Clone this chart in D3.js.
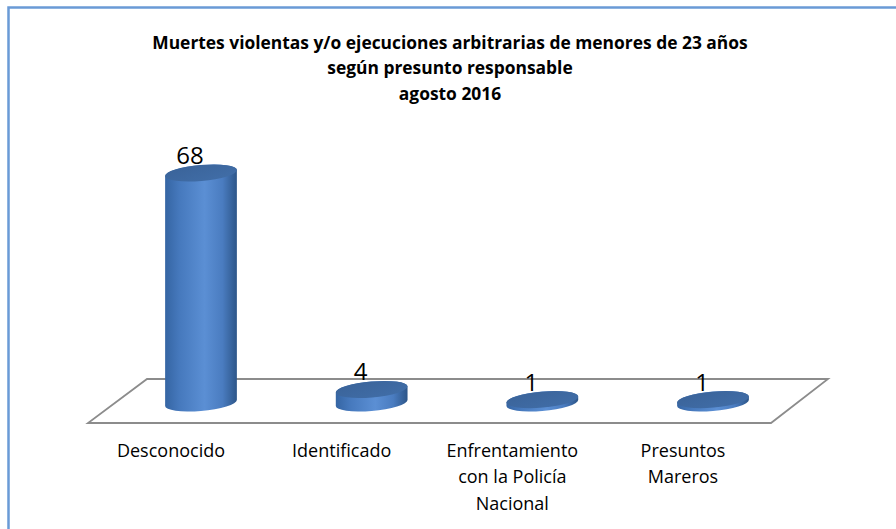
<!DOCTYPE html>
<html>
<head>
<meta charset="utf-8">
<script src="https://cdn.jsdelivr.net/npm/d3@7"></script>
<style>
  html, body { margin: 0; padding: 0; background: #fff; }
  svg { display: block; }
  text { font-family: "Open Sans", Lato, sans-serif; }
</style>
</head>
<body>
<div id="chart"></div>
<script>
const titleLines = [
  'Muertes violentas y/o ejecuciones arbitrarias de menores de 23 años',
  'según presunto responsable',
  'agosto 2016'
];
const categories = ['Desconocido', 'Identificado', 'Enfrentamiento con la Policía Nacional', 'Presuntos Mareros'];
const categoryLines = [
  ['Desconocido'],
  ['Identificado'],
  ['Enfrentamiento', 'con la Policía', 'Nacional'],
  ['Presuntos', 'Mareros']
];
const values = [68, 4, 1, 1];

const width = 896, height = 529;

const svg = d3.select('#chart').append('svg')
  .attr('width', width)
  .attr('height', height);

// outer frame (runs past the right and bottom edges)
svg.append('rect')
  .attr('x', 8.5).attr('y', 7.5)
  .attr('width', 920).attr('height', 560)
  .attr('fill', '#fff')
  .attr('stroke', '#6a9ad6')
  .attr('stroke-width', 2.5);

const defs = svg.append('defs');
const bodyGrad = defs.append('linearGradient')
  .attr('id', 'bodyGrad')
  .attr('x1', '0%').attr('x2', '100%').attr('y1', '0%').attr('y2', '0%');
[['0%', '#3565a3'], ['20%', '#4679bd'], ['55%', '#5b8fd4'], ['80%', '#4a7cc0'], ['100%', '#2d5689']]
  .forEach(s => bodyGrad.append('stop').attr('offset', s[0]).attr('stop-color', s[1]));

const topGrad = defs.append('linearGradient')
  .attr('id', 'topGrad')
  .attr('x1', '0%').attr('x2', '100%').attr('y1', '0%').attr('y2', '100%');
[['0%', '#3a6399'], ['100%', '#416ea8']]
  .forEach(s => topGrad.append('stop').attr('offset', s[0]).attr('stop-color', s[1]));

// title
svg.append('g').selectAll('text')
  .data(titleLines)
  .join('text')
  .attr('x', 450)
  .attr('y', (d, i) => 48.5 + i * 25.8)
  .attr('text-anchor', 'middle')
  .attr('font-weight', 'bold')
  .attr('font-size', '17.4px')
  .attr('fill', '#000')
  .text(d => d);

const x = d3.scalePoint()
  .domain(categories)
  .range([201, 713]);

const y = d3.scaleLinear()
  .domain([0, 68])
  .range([403, 173]);

// floor
const floor = [[147, 379], [828, 379], [771, 423], [88, 423]];
svg.append('path')
  .attr('d', d3.line()(floor) + 'Z')
  .attr('fill', '#fff')
  .attr('stroke', '#8c8c8c')
  .attr('stroke-width', 1.8);

// cylinders
const rx = 36, ry = 8, rot = -5;
const th = rot * Math.PI / 180;
const t0 = Math.atan2(-ry * Math.sin(th), rx * Math.cos(th));
let px = rx * Math.cos(t0) * Math.cos(th) - ry * Math.sin(t0) * Math.sin(th);
let py = rx * Math.cos(t0) * Math.sin(th) + ry * Math.sin(t0) * Math.cos(th);
if (px < 0) { px = -px; py = -py; }

const bars = svg.append('g').selectAll('g')
  .data(values.map((v, i) => ({ cat: categories[i], value: v })))
  .join('g');

bars.append('path')
  .attr('d', d => {
    const cx = x(d.cat), yt = y(d.value), yb = y(0);
    return `M${cx - px},${yt - py} L${cx - px},${yb - py}` +
      ` A${rx},${ry} ${rot} 0 0 ${cx + px},${yb + py}` +
      ` L${cx + px},${yt + py}` +
      ` A${rx},${ry} ${rot} 0 0 ${cx - px},${yt - py} Z`;
  })
  .attr('fill', 'url(#bodyGrad)');

bars.append('ellipse')
  .attr('cx', d => x(d.cat))
  .attr('cy', d => y(d.value))
  .attr('rx', rx)
  .attr('ry', ry)
  .attr('transform', d => `rotate(${rot},${x(d.cat)},${y(d.value)})`)
  .attr('fill', 'url(#topGrad)');

// value labels
svg.append('g').selectAll('text')
  .data(values.map((v, i) => ({ cat: categories[i], value: v })))
  .join('text')
  .attr('x', d => x(d.cat) - 11)
  .attr('y', d => y(d.value) - 9)
  .attr('text-anchor', 'middle')
  .attr('font-size', '24px')
  .attr('fill', '#000')
  .text(d => d.value);

// category labels
const cl = svg.append('g').selectAll('text')
  .data(categories)
  .join('text')
  .attr('text-anchor', 'middle')
  .attr('font-size', '18px')
  .attr('fill', '#000');

cl.selectAll('tspan')
  .data((d, i) => categoryLines[i].map(t => ({ t, cat: d })))
  .join('tspan')
  .attr('x', d => x(d.cat) - 30)
  .attr('y', (d, j) => 456.5 + j * 26.5)
  .text(d => d.t);
</script>
</body>
</html>
